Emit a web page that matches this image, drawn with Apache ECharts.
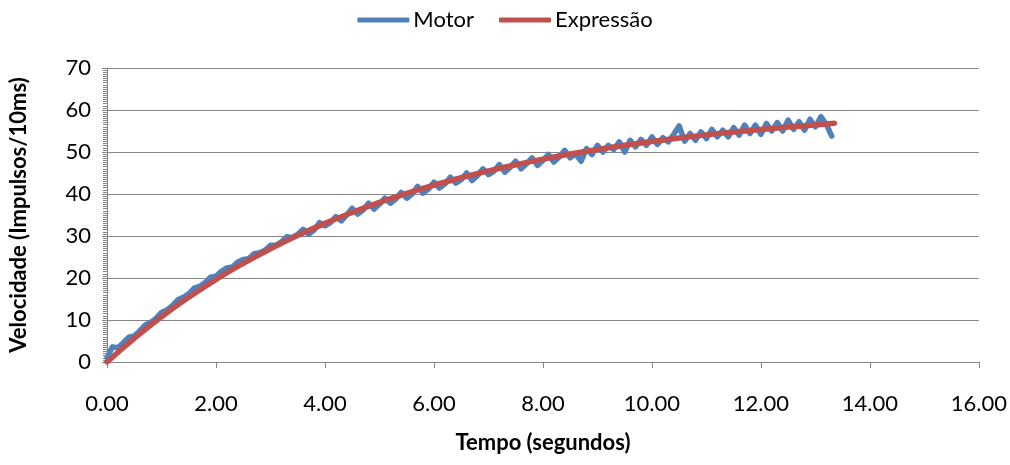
<!DOCTYPE html>
<html>
<head>
<meta charset="utf-8">
<script src="https://cdn.jsdelivr.net/npm/echarts@6/dist/echarts.min.js"></script>
<style>html,body{margin:0;padding:0;background:#fff}#c{width:1010px;height:465px}</style>
</head>
<body>
<div id="c"></div>
<script>
const xTicks = ['0.00','2.00','4.00','6.00','8.00','10.00','12.00','14.00','16.00'];
const seriesNames = ['Motor', 'Expressão'];
// Motor: sampled every 0.1 s from t = 0
const motorStep = 0.1;
const motorV = [
 1.0, 3.6, 3.4, 4.6, 5.9, 6.2, 7.4, 8.8, 9.4, 10.4,
 11.8, 12.4, 13.4, 14.8, 15.4, 16.2, 17.6, 18.0, 18.9, 20.2,
 20.4, 21.6, 22.4, 22.6, 23.8, 24.4, 24.6, 25.8, 26.0, 26.6,
 27.8, 27.8, 28.6, 29.8, 29.6, 30.4, 31.6, 30.4, 31.4, 33.2,
 32.4, 33.2, 34.6, 33.6, 35.0, 36.6, 35.2, 36.2, 37.8, 36.4,
 37.6, 39.0, 37.8, 38.8, 40.4, 39.0, 40.0, 41.8, 40.2, 41.2,
 42.8, 41.4, 42.4, 44.0, 42.6, 43.4, 45.0, 43.2, 44.4, 46.0,
 44.6, 45.4, 47.0, 45.2, 46.4, 47.8, 46.0, 47.2, 48.6, 46.8,
 48.0, 49.4, 47.6, 48.8, 50.4, 48.6, 49.6, 47.8, 50.8, 49.4,
 51.6, 50.0, 51.6, 50.6, 52.4, 50.0, 52.8, 51.2, 53.0, 51.6,
 53.6, 51.8, 53.4, 52.4, 54.2, 56.2, 52.6, 54.4, 52.8, 54.8,
 53.2, 55.4, 53.6, 55.2, 53.6, 55.8, 54.0, 56.4, 54.4, 56.4,
 54.2, 56.8, 55.0, 57.0, 55.0, 57.6, 55.4, 57.2, 55.2, 57.8,
 56.0, 58.4, 56.6, 53.8
];
const exprT = [0,0.5,1,1.5,2,2.5,3,3.5,4,4.5,5,5.5,6,6.5,7,7.5,8,8.5,9,9.5,10,10.5,11,11.5,12,12.5,13,13.35];
const exprV = [0,5.64,10.76,15.41,19.64,23.48,26.96,30.13,33.00,35.61,37.99,40.14,42.10,43.88,45.50,46.96,48.30,49.51,50.61,51.60,52.51,53.33,54.08,54.76,55.38,55.94,56.45,56.85];

const motorData = motorV.map((v, i) => [+(i * motorStep).toFixed(2), v]);
const exprData = exprT.map((t, i) => [t, exprV[i]]);

const FONT = 'Lato, "Open Sans", sans-serif';
const chart = echarts.init(document.getElementById('c'));
chart.setOption({
  animation: false,
  textStyle: { fontFamily: FONT },
  legend: {
    top: 4, left: 'center',
    itemWidth: 52, itemHeight: 5, itemGap: 25,
    icon: 'roundRect',
    textStyle: { fontSize: 22, color: '#000', fontFamily: FONT, padding: [0, 0, 0, -1] },
    data: seriesNames
  },
  grid: { left: 102, right: 31, top: 68, bottom: 103 },
  xAxis: {
    type: 'value', min: 0, max: 16, interval: 2,
    name: 'Tempo (segundos)', nameLocation: 'middle', nameGap: 70,
    nameTextStyle: { fontSize: 22, fontWeight: 'bold', color: '#000', fontFamily: FONT },
    axisLine: { lineStyle: { color: '#868686', width: 1 } },
    axisTick: { show: true, length: 6, lineStyle: { color: '#868686' } },
    axisLabel: { fontSize: 22, color: '#000', margin: 31, fontFamily: FONT,
      formatter: (v) => xTicks[Math.round(v / 2)] },
    splitLine: { show: false }
  },
  yAxis: {
    type: 'value', min: 0, max: 70, interval: 10,
    name: 'Velocidade (Impulsos/10ms)', nameLocation: 'middle', nameGap: 77,
    nameTextStyle: { fontSize: 22, fontWeight: 'bold', color: '#000', fontFamily: FONT },
    axisLine: { show: true, lineStyle: { color: '#868686', width: 1 } },
    axisTick: { show: true, length: 5, lineStyle: { color: '#868686' } },
    minorTick: { show: true, splitNumber: 20, length: 4, lineStyle: { color: '#868686' } },
    axisLabel: { fontSize: 22, color: '#000', margin: 16, fontFamily: FONT },
    splitLine: { show: true, lineStyle: { color: '#868686', width: 1 } }
  },
  series: [
    {
      name: seriesNames[0], type: 'line', data: motorData,
      showSymbol: false, symbol: 'none',
      lineStyle: { color: '#4F81BD', width: 5.5, cap: 'round', join: 'round' },
      itemStyle: { color: '#4F81BD' }, z: 2
    },
    {
      name: seriesNames[1], type: 'line', data: exprData, smooth: true,
      showSymbol: false, symbol: 'none',
      lineStyle: { color: '#C0504D', width: 5.5, cap: 'round', join: 'round' },
      itemStyle: { color: '#C0504D' }, z: 3
    }
  ]
});
</script>
</body>
</html>
